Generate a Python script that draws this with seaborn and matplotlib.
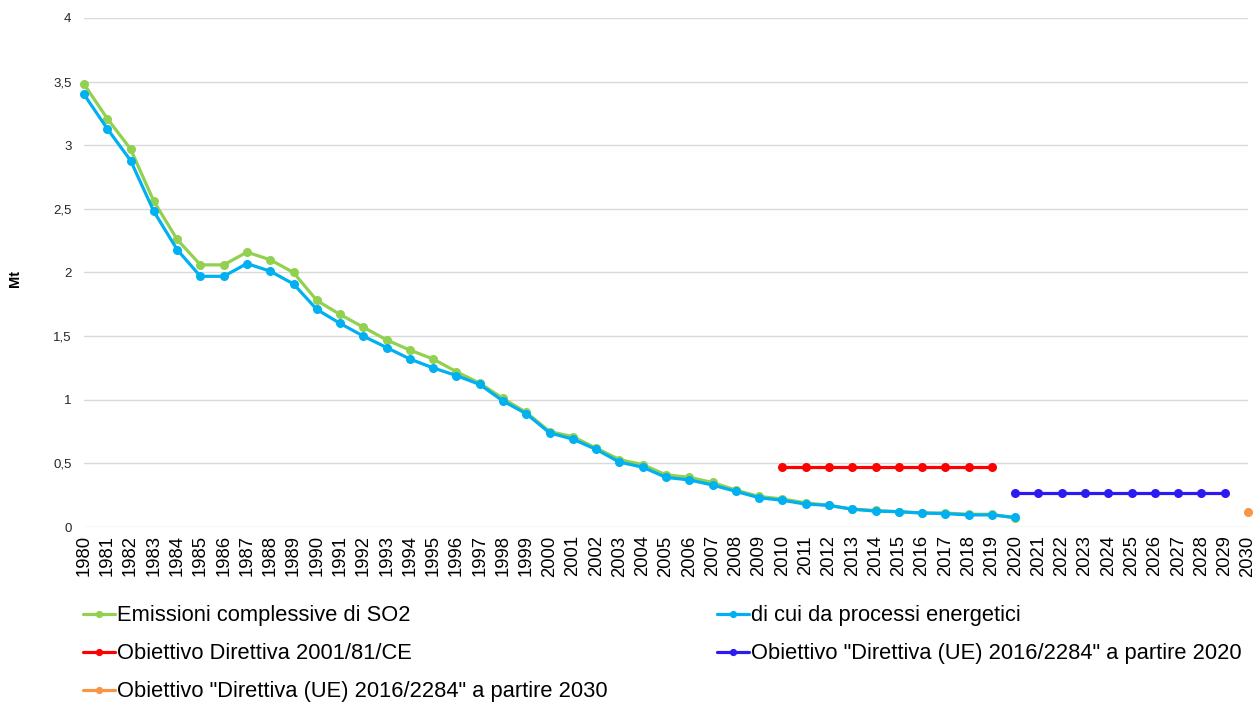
import matplotlib
matplotlib.use("Agg")
import matplotlib.pyplot as plt
import seaborn as sns
import pandas as pd

years = list(range(1980, 2031))
emissioni = [3.48, 3.21, 2.97, 2.56, 2.26, 2.06, 2.06, 2.16, 2.10, 2.00,
             1.78, 1.67, 1.57, 1.47, 1.39, 1.32, 1.22, 1.13, 1.01, 0.90,
             0.75, 0.71, 0.62, 0.53, 0.49, 0.41, 0.39, 0.35, 0.29, 0.24,
             0.22, 0.19, 0.17, 0.14, 0.13, 0.12, 0.11, 0.11, 0.10, 0.10,
             0.07]
energetici = [3.40, 3.13, 2.88, 2.48, 2.18, 1.97, 1.97, 2.07, 2.01, 1.91,
              1.71, 1.60, 1.50, 1.41, 1.32, 1.25, 1.19, 1.12, 0.99, 0.89,
              0.74, 0.69, 0.61, 0.51, 0.47, 0.39, 0.37, 0.33, 0.28, 0.23,
              0.21, 0.18, 0.17, 0.14, 0.125, 0.12, 0.11, 0.105, 0.095, 0.095,
              0.075]
obiettivo_2001_years = list(range(2010, 2020))
obiettivo_2001 = [0.475] * 10
obiettivo_2020_years = list(range(2020, 2030))
obiettivo_2020 = [0.27] * 10
obiettivo_2030_years = [2030]
obiettivo_2030 = [0.12]

labels = ["Emissioni complessive di SO2",
          "di cui da processi energetici",
          "Obiettivo Direttiva 2001/81/CE",
          "Obiettivo \"Direttiva (UE) 2016/2284\" a partire 2020",
          "Obiettivo \"Direttiva (UE) 2016/2284\" a partire 2030"]
colors = ["#92D050", "#00B0F0", "#FF0000", "#2B1BF0", "#F79646"]
yticks = [0, 0.5, 1, 1.5, 2, 2.5, 3, 3.5, 4]
ytick_labels = ["0", "0,5", "1", "1,5", "2", "2,5", "3", "3,5", "4"]

sns.set_theme(style="white")
plt.rcParams['font.family'] = ['Liberation Sans', 'DejaVu Sans']
plt.rcParams['text.color'] = 'black'
plt.rcParams['axes.labelcolor'] = 'black'

fig = plt.figure(figsize=(12.55, 7.02), dpi=100)
ax = fig.add_axes([84/1255, 1-527/702, (1248-84)/1255, (527-18)/702])

series = [
    (years[:len(emissioni)], emissioni),
    (years[:len(energetici)], energetici),
    (obiettivo_2001_years, obiettivo_2001),
    (obiettivo_2020_years, obiettivo_2020),
    (obiettivo_2030_years, obiettivo_2030),
]
handles = []
for (xs, ys), lab, col in zip(series, labels, colors):
    df = pd.DataFrame({"x": xs, "y": ys})
    sns.lineplot(data=df, x="x", y="y", ax=ax, color=col, linewidth=2.3,
                 marker="o", markersize=6.5, markeredgewidth=0, label=lab,
                 legend=False, zorder=3, clip_on=False)
    handles.append(ax.lines[-1])

ax.set_xlim(1980, 2030)
ax.set_ylim(0, 4)
ax.set_xticks(years)
ax.set_xticklabels([str(y) for y in years], rotation=90, fontsize=13.3)
ax.set_yticks(yticks)
ax.set_yticklabels(ytick_labels, fontsize=9.5, color="#262626")
ax.tick_params(axis="x", length=0, pad=6, colors="black")
ax.tick_params(axis="y", length=0, pad=9)
ax.grid(axis="y", color="#D9D9D9", linewidth=1)
for s in ax.spines.values():
    s.set_visible(False)
ax.set_xlabel("")
ax.set_ylabel("Mt", fontsize=10.5, fontweight="bold", color="black")
ax.yaxis.set_label_coords(-0.0533, 0.489)

order = [0, 2, 4, 1, 3]
leg = fig.legend([handles[i] for i in order], [labels[i] for i in order],
                 ncol=2, loc="upper left",
                 bbox_to_anchor=(83/1255, 1-606/702, (1242-83)/1255, 0.001),
                 mode="expand", frameon=False, fontsize=15.75,
                 handlelength=1.45, handletextpad=0.12, labelspacing=0.78,
                 markerscale=0.8, borderaxespad=0, borderpad=0,
                 labelcolor="black")

fig.savefig("out.png", dpi=100)
